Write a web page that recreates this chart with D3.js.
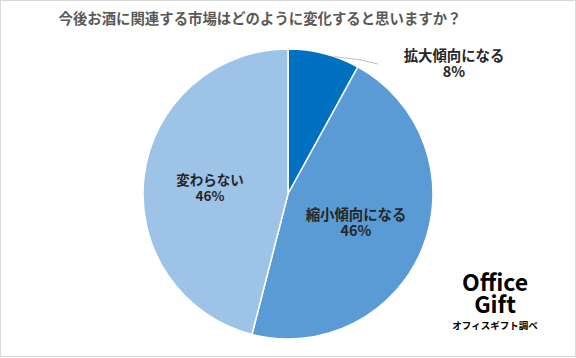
<!DOCTYPE html>
<html><head><meta charset="utf-8">
<script src="https://cdn.jsdelivr.net/npm/d3@7"></script>
<style>body{margin:0;background:#fff}svg{display:block}text{font-family:"Noto Sans CJK JP","Noto Sans",sans-serif}</style>
</head><body>
<svg id="c" width="576" height="358"></svg>
<script>
const title = "今後お酒に関連する市場はどのように変化すると思いますか？";
const categories = ["拡大傾向になる", "縮小傾向になる", "変わらない"];
const values = [8, 46, 46];
const colors = ["#0070C0", "#5B9BD5", "#9DC3E6"];

const svg = d3.select("#c");
svg.append("rect").attr("x",0.5).attr("y",0.5).attr("width",575).attr("height",356)
  .attr("fill","#fff").attr("stroke","#d9d9d9");
svg.append("text").attr("x",260).attr("y",24).attr("text-anchor","middle")
  .attr("font-size",14.4).attr("font-weight","bold").attr("fill","#595959").text(title);

const cx = 288, cy = 194, r = 145;
const g = svg.append("g").attr("transform",`translate(${cx},${cy})`);
const pie = d3.pie().sort(null).value(d=>d)(values);
const arc = d3.arc().innerRadius(0).outerRadius(r);
g.selectAll("path").data(pie).enter().append("path")
  .attr("d",arc).attr("fill",(d,i)=>colors[i]).attr("stroke","#fff").attr("stroke-width",1.5);

// label positions (offset from center)
const labelPos = [[166,-133],[68,26],[-78,-9]];
pie.forEach((d,i)=>{
  const t = g.append("text").attr("text-anchor","middle").attr("font-size",i===2?13.5:14.4)
    .attr("font-weight","bold").attr("fill","#262626")
    .attr("transform",`translate(${labelPos[i][0]},${labelPos[i][1]})`);
  t.append("tspan").attr("x",0).attr("dy",0).text(categories[i]);
  t.append("tspan").attr("x",0).attr("dy",16).text(d3.format(".0f")(values[i])+"%");
});
// leader line for small slice
const a0 = pie[0].startAngle + (pie[0].endAngle-pie[0].startAngle)*0.65;
const p0 = [Math.sin(a0)*r, -Math.cos(a0)*r];
g.append("path").attr("d",d3.line()([p0,[p0[0]+25,p0[1]+3],[90,-130]]))
  .attr("fill","none").attr("stroke","#bfbfbf").attr("stroke-width",1);

// logo
svg.append("text").attr("x",495).attr("y",291).attr("text-anchor","middle")
  .attr("font-family","Liberation Sans, Arial, sans-serif").attr("font-weight","bold")
  .attr("font-size",23).attr("fill","#000").text("Office");
svg.append("text").attr("x",495).attr("y",313).attr("text-anchor","middle")
  .attr("font-family","Liberation Sans, Arial, sans-serif").attr("font-weight","bold")
  .attr("font-size",23).attr("fill","#000").text("Gift");
svg.append("text").attr("x",495).attr("y",329).attr("text-anchor","middle")
  .attr("font-weight","bold").attr("font-size",9.5).attr("fill","#000").text("オフィスギフト調べ");
</script>
</body></html>
